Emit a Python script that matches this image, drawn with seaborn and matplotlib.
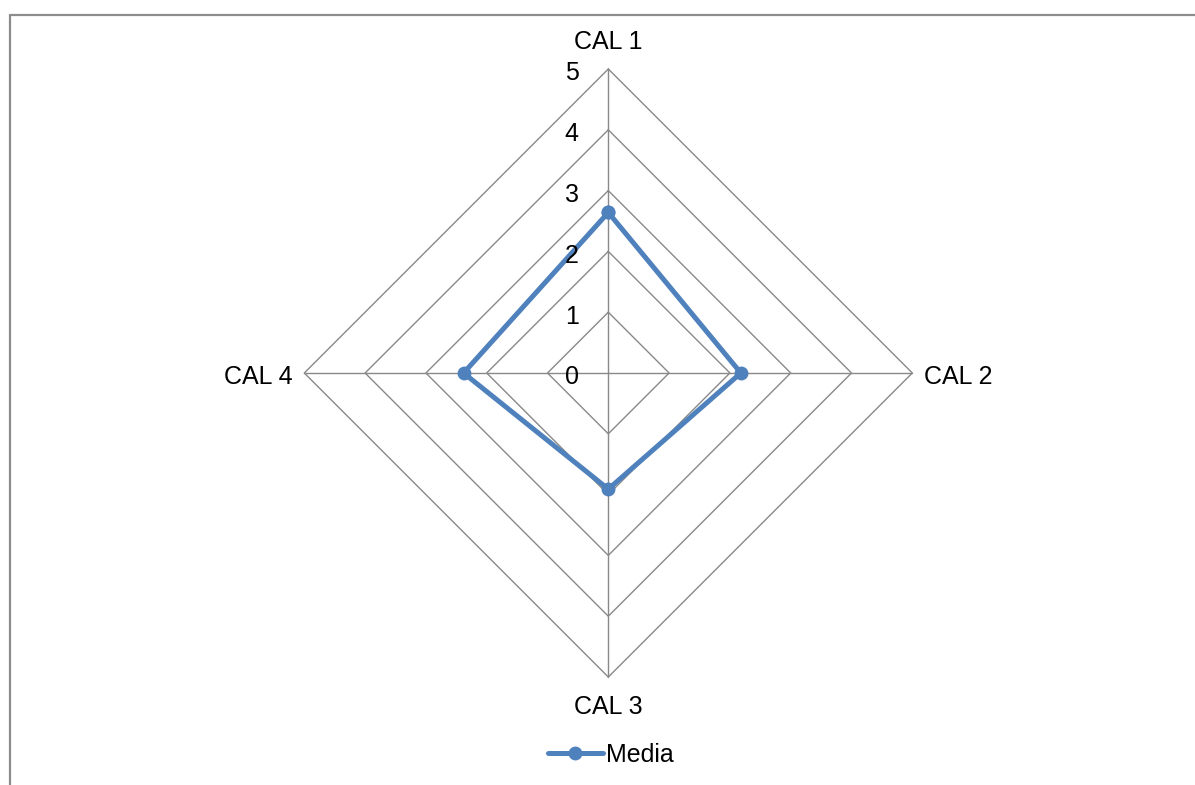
import numpy as np
import pandas as pd
import matplotlib
matplotlib.use("Agg")
import matplotlib.pyplot as plt
import seaborn as sns
from matplotlib.lines import Line2D

categorias = ["CAL 1", "CAL 2", "CAL 3", "CAL 4"]
media = [2.64, 2.18, 1.91, 2.38]
niveles = [0, 1, 2, 3, 4, 5]

sns.set_style("white")
plt.rcParams["font.family"] = ["Liberation Sans", "DejaVu Sans"]
plt.rcParams["text.color"] = "black"

W, H = 1195, 785
cx, cy = 608.3, 373.0   # centro del radar en píxeles
unidad = 60.8           # píxeles por unidad

fig = plt.figure(figsize=(W / 100, H / 100), dpi=100)
ax = fig.add_axes([0, 0, 1, 1])
ax.set_xlim(-cx / unidad, (W - cx) / unidad)
ax.set_ylim(-(H - cy) / unidad, cy / unidad)
ax.axis("off")

# ángulos: arriba, derecha, abajo, izquierda
ang = np.pi / 2 - np.arange(len(categorias)) * 2 * np.pi / len(categorias)

grid_col = "#898989"
for n in niveles[1:]:
    xs = np.append(n * np.cos(ang), n * np.cos(ang[0]))
    ys = np.append(n * np.sin(ang), n * np.sin(ang[0]))
    ax.plot(xs, ys, color=grid_col, lw=1.0, zorder=1)
rmax = max(niveles)
for a in ang:
    ax.plot([0, rmax * np.cos(a)], [0, rmax * np.sin(a)], color=grid_col, lw=1.0, zorder=1)

# serie (polígono cerrado)
vals = np.append(media, media[0])
angs = np.append(ang, ang[0])
df = pd.DataFrame({"x": vals * np.cos(angs), "y": vals * np.sin(angs)})
sns.lineplot(data=df, x="x", y="y", sort=False, estimator=None, ax=ax,
             color="#4F81BD", lw=3.6, marker="o", markersize=10,
             markeredgewidth=0, zorder=3, legend=False)

# etiquetas de categorías
fs = 18
ax.text(0, 5.49, categorias[0], ha="center", va="center_baseline", fontsize=fs)
ax.text(rmax + 0.2, -0.02, categorias[1], ha="left", va="center_baseline", fontsize=fs)
ax.text(0, -5.45, categorias[2], ha="center", va="center_baseline", fontsize=fs)
ax.text(-rmax - 0.2, -0.02, categorias[3], ha="right", va="center_baseline", fontsize=fs)

# etiquetas de los niveles
for n in niveles:
    ax.text(-0.49, n - 0.03, str(n), ha="right", va="center_baseline", fontsize=fs)

# leyenda
handle = Line2D([], [], color="#4F81BD", lw=3.6, marker="o", markersize=10,
                markeredgewidth=0)
fig.legend([handle], ["Media"], loc="center",
           bbox_to_anchor=(611 / W, 1 - 755 / H), frameon=False,
           fontsize=fs, handlelength=2.2, handletextpad=0.15,
           borderpad=0, borderaxespad=0)

# marco del área del gráfico
fig.add_artist(Line2D([10 / W, 1.01], [1 - 15 / H, 1 - 15 / H],
                      transform=fig.transFigure, color="#8c8c8c", lw=1.6))
fig.add_artist(Line2D([10 / W, 10 / W], [1 - 15 / H, -0.01],
                      transform=fig.transFigure, color="#8c8c8c", lw=1.6))

fig.savefig("out.png", dpi=100)
